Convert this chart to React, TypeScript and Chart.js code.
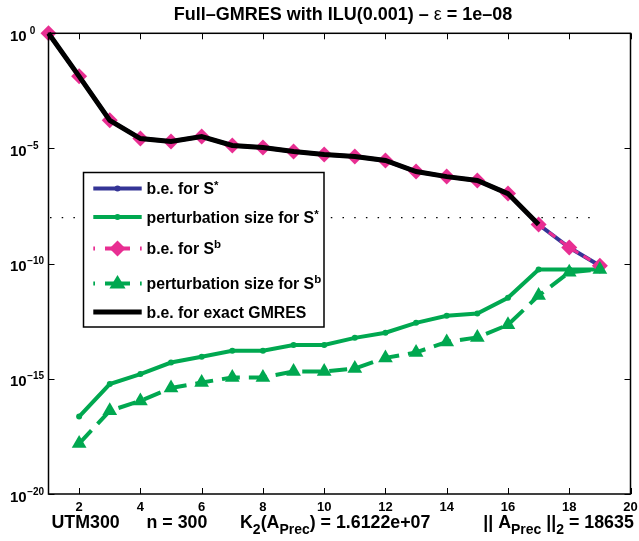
import React, { useEffect, useRef } from 'react';
import { Chart, registerables } from 'chart.js';

Chart.register(...registerables);

// ---------------- data ----------------
const iterations = [1, 2, 3, 4, 5, 6, 7, 8, 9, 10, 11, 12, 13, 14, 15, 16, 17, 18, 19];

// b.e. for S* (blue)
const beSstar = [1.0, 1.35e-2, 1.66e-4, 2.69e-5, 2.0e-5, 3.31e-5, 1.35e-5, 1.1e-5, 7.4e-6, 5.5e-6,
  4.47e-6, 3.0e-6, 1.0e-6, 6.0e-7, 4.1e-7, 1.1e-7, 5.0e-9, 5.0e-10, 8.1e-11];
// perturbation size for S* (green solid)
const pertSstar = [null, 2.3e-17, 5.9e-16, 1.6e-15, 5.1e-15, 9.1e-15, 1.66e-14, 1.66e-14, 2.95e-14, 2.95e-14,
  6.0e-14, 1.0e-13, 2.7e-13, 5.5e-13, 6.8e-13, 3.3e-12, 5.6e-11, 5.6e-11, 5.6e-11];
// b.e. for S^b (pink diamonds)
const beSb = [1.0, 1.35e-2, 1.66e-4, 2.69e-5, 2.0e-5, 3.31e-5, 1.35e-5, 1.1e-5, 7.4e-6, 5.5e-6,
  4.47e-6, 3.0e-6, 1.0e-6, 6.0e-7, 4.1e-7, 1.1e-7, 5.0e-9, 5.0e-10, 8.1e-11];
// perturbation size for S^b (green triangles, dashed)
const pertSb = [null, 1.55e-18, 4.1e-17, 1.1e-16, 4.0e-16, 6.9e-16, 1.15e-15, 1.15e-15, 2.1e-15, 2.1e-15,
  2.8e-15, 8.1e-15, 1.4e-14, 4.0e-14, 6.3e-14, 2.2e-13, 4.1e-12, 4.2e-11, 5.6e-11];
// b.e. for exact GMRES (black)
const beExact = [1.0, 1.35e-2, 1.66e-4, 2.69e-5, 2.0e-5, 3.31e-5, 1.35e-5, 1.1e-5, 7.4e-6, 5.5e-6,
  4.47e-6, 3.0e-6, 1.0e-6, 6.0e-7, 4.1e-7, 1.1e-7, 5.0e-9, null, null];

// tolerance line
const epsilon = 1e-8;
const epsRangeX = [1, 19];

// axes
const xMin = 1;
const xMax = 20;
const yMin = 1e-20;
const yMax = 1;
const xTicks = [2, 4, 6, 8, 10, 12, 14, 16, 18, 20];
const xTickLabels = ['2', '4', '6', '8', '10', '12', '14', '16', '18', '20'];
const yTicks = [1, 1e-5, 1e-10, 1e-15, 1e-20];
const yTickExponents = ['0', '\u22125', '\u221210', '\u221215', '\u221220'];

const titleParts = ['Full\u2013GMRES with ILU(0.001) \u2013 ', '\u03B5', ' = 1e\u201308'];
const matrixName = 'UTM300';
const matrixSize = 'n = 300';
const condNumber = '1.6122e+07';
const normValue = '18635';

const legendLabels = [
  ['b.e. for S', '*'],
  ['perturbation size for S', '*'],
  ['b.e. for S', 'b'],
  ['perturbation size for S', 'b'],
  ['b.e. for exact GMRES', ''],
];

// ---------------- styles ----------------
const BLUE = 'rgb(52,52,150)';
const GREEN = 'rgb(0,168,80)';
const PINK = 'rgb(232,46,146)';
const FONT = '"Liberation Sans", Arial, Helvetica, sans-serif';

function pts(vals: (number | null)[]) {
  return iterations.map((x, i) => ({ x, y: vals[i] }));
}

function drawMarker(ctx: CanvasRenderingContext2D, kind: string, x: number, y: number, r: number, color: string) {
  ctx.save();
  ctx.fillStyle = color;
  ctx.beginPath();
  if (kind === 'circle') {
    ctx.arc(x, y, r, 0, Math.PI * 2);
  } else if (kind === 'diamond') {
    ctx.moveTo(x, y - r);
    ctx.lineTo(x + r, y);
    ctx.lineTo(x, y + r);
    ctx.lineTo(x - r, y);
    ctx.closePath();
  } else if (kind === 'triangle') {
    ctx.moveTo(x, y - r);
    ctx.lineTo(x + r * 0.95, y + r * 0.6);
    ctx.lineTo(x - r * 0.95, y + r * 0.6);
    ctx.closePath();
  }
  ctx.fill();
  ctx.restore();
}

type Part = { t: string; size: number; dy?: number; weight?: string };
function drawRich(ctx: CanvasRenderingContext2D, x: number, y: number, parts: Part[]) {
  let cx = x;
  for (const p of parts) {
    ctx.font = `${p.weight || 'bold'} ${p.size}px ${FONT}`;
    ctx.fillText(p.t, cx, y + (p.dy || 0));
    cx += ctx.measureText(p.t).width;
  }
  return cx;
}
function richWidth(ctx: CanvasRenderingContext2D, parts: Part[]) {
  let w = 0;
  for (const p of parts) {
    ctx.font = `${p.weight || 'bold'} ${p.size}px ${FONT}`;
    w += ctx.measureText(p.t).width;
  }
  return w;
}

const legendPlugin = {
  id: 'customLegend',
  afterDatasetsDraw(chart: any) {
    const ctx: CanvasRenderingContext2D = chart.ctx;
    ctx.save();
    const bx = 83.5, by = 172.5, bw = 240.5, bh = 154.5;
    ctx.fillStyle = '#fff';
    ctx.fillRect(bx, by, bw, bh);
    ctx.strokeStyle = '#000';
    ctx.lineWidth = 1.5;
    ctx.strokeRect(bx, by, bw, bh);

    const rowY = [188.5, 217, 248.5, 283.5, 312];
    const x0 = 93.3, x1 = 141.7, xm = (x0 + x1) / 2, tx = 146.5;
    const styles = [
      { color: BLUE, dash: [], marker: 'circle', r: 3, w: 4 },
      { color: GREEN, dash: [], marker: 'circle', r: 3, w: 4 },
      { color: PINK, dash: [25, 10], marker: 'diamond', r: 8, w: 4 },
      { color: GREEN, dash: [25, 10], marker: 'triangle', r: 8.5, w: 4 },
      { color: '#000', dash: [], marker: '', r: 0, w: 5 },
    ];
    styles.forEach((s, i) => {
      const y = rowY[i];
      ctx.save();
      ctx.strokeStyle = s.color;
      ctx.lineWidth = s.w;
      ctx.setLineDash(s.dash);
      ctx.lineDashOffset = s.dash.length ? 23.3 : 0;
      ctx.beginPath();
      ctx.moveTo(x0, y);
      ctx.lineTo(x1, y);
      ctx.stroke();
      ctx.restore();
      if (s.marker) drawMarker(ctx, s.marker, xm, y, s.r, s.color);
      ctx.fillStyle = '#000';
      ctx.textBaseline = 'alphabetic';
      ctx.textAlign = 'left';
      const [main, sup] = legendLabels[i];
      const parts: Part[] = [{ t: main, size: 15.8 }];
      if (sup) parts.push({ t: sup, size: 11.5, dy: sup === '*' ? -5 : -6.5 });
      drawRich(ctx, tx, y + 5.5, parts);
    });
    ctx.restore();
  },
};

const axesPlugin = {
  id: 'matlabAxes',
  afterDraw(chart: any) {
    const ctx: CanvasRenderingContext2D = chart.ctx;
    const { left, right, top, bottom } = chart.chartArea;
    const xs = chart.scales.x;
    const ys = chart.scales.y;
    ctx.save();
    // frame
    ctx.strokeStyle = '#000';
    ctx.lineWidth = 1.5;
    ctx.strokeRect(left, top, right - left, bottom - top);
    // ticks
    ctx.lineWidth = 1;
    ctx.beginPath();
    xTicks.forEach((v) => {
      const px = Math.round(xs.getPixelForValue(v)) + 0.5;
      ctx.moveTo(px, bottom);
      ctx.lineTo(px, bottom - 6);
      ctx.moveTo(px, top);
      ctx.lineTo(px, top + 6);
    });
    yTicks.forEach((v) => {
      const py = Math.round(ys.getPixelForValue(v)) + 0.5;
      ctx.moveTo(left, py);
      ctx.lineTo(left + 6, py);
      ctx.moveTo(right, py);
      ctx.lineTo(right - 6, py);
    });
    ctx.stroke();

    // x tick labels
    ctx.fillStyle = '#000';
    ctx.textBaseline = 'alphabetic';
    ctx.textAlign = 'center';
    ctx.font = `bold 13px ${FONT}`;
    xTicks.forEach((v, i) => {
      ctx.fillText(xTickLabels[i], xs.getPixelForValue(v), 511);
    });

    // y tick labels
    ctx.textAlign = 'left';
    yTicks.forEach((v, i) => {
      const py = ys.getPixelForValue(v);
      ctx.font = `bold 15px ${FONT}`;
      ctx.fillText('10', 10, py + 7.5);
      const w = ctx.measureText('10').width;
      ctx.font = `bold 10px ${FONT}`;
      const ex = yTickExponents[i];
      ctx.fillText(ex, 10 + w + (ex === '0' ? 3 : 0.5), py + 0.5);
    });

    // title
    const tparts: Part[] = [
      { t: titleParts[0], size: 18 },
      { t: titleParts[1], size: 18, weight: 'normal' },
      { t: titleParts[2], size: 18 },
    ];
    const tw = richWidth(ctx, tparts);
    drawRich(ctx, 343 - tw / 2, 19.5, tparts);

    // bottom annotation
    const by = 528;
    drawRich(ctx, 51.5, by, [{ t: matrixName, size: 17.8 }]);
    drawRich(ctx, 146.5, by, [{ t: matrixSize, size: 17.8 }]);
    drawRich(ctx, 240, by, [
      { t: 'K', size: 17.8 },
      { t: '2', size: 14, dy: 6 },
      { t: '(A', size: 17.8 },
      { t: 'Prec', size: 14, dy: 6 },
      { t: ') = ' + condNumber, size: 17.8 },
    ]);
    drawRich(ctx, 483.3, by, [
      { t: '|| A', size: 17.8 },
      { t: 'Prec', size: 14, dy: 6 },
      { t: ' ||', size: 17.8 },
      { t: '2', size: 14, dy: 6 },
      { t: ' = ' + normValue, size: 17.8 },
    ]);
    ctx.restore();
  },
};

export default function App() {
  const ref = useRef<HTMLCanvasElement | null>(null);
  useEffect(() => {
    if (!ref.current) return;
    const chart = new Chart(ref.current, {
      type: 'line',
      data: {
        datasets: [
          {
            label: 'b.e. for exact GMRES',
            data: pts(beExact),
            borderColor: '#000',
            borderWidth: 5,
            pointRadius: 0,
            order: 0,
            clip: false,
          },
          {
            label: 'perturbation size for S^b',
            data: pts(pertSb),
            borderColor: GREEN,
            backgroundColor: GREEN,
            borderWidth: 4,
            borderDash: [18, 9],
            pointStyle: 'triangle',
            pointRadius: 8.5,
            pointBorderWidth: 0,
            order: 1,
            clip: false,
          },
          {
            label: 'b.e. for S^b',
            data: pts(beSb),
            borderColor: PINK,
            backgroundColor: PINK,
            borderWidth: 3,
            borderDash: [8, 6],
            pointStyle: 'rectRot',
            pointRadius: 8,
            pointBorderWidth: 0,
            order: 2,
            clip: false,
          },
          {
            label: 'perturbation size for S*',
            data: pts(pertSstar),
            borderColor: GREEN,
            backgroundColor: GREEN,
            borderWidth: 4,
            pointStyle: 'circle',
            pointRadius: 3,
            pointBorderWidth: 0,
            order: 3,
            clip: false,
          },
          {
            label: 'b.e. for S*',
            data: pts(beSstar),
            borderColor: BLUE,
            backgroundColor: BLUE,
            borderWidth: 4,
            pointStyle: 'circle',
            pointRadius: 2.5,
            pointBorderWidth: 0,
            order: 4,
            clip: false,
          },
          {
            label: 'epsilon',
            data: epsRangeX.map((x) => ({ x, y: epsilon })),
            borderColor: '#000',
            borderWidth: 1.2,
            borderDash: [1.5, 10.2],
            borderDashOffset: 10.2,
            pointRadius: 0,
            order: 5,
            clip: false,
          },
        ],
      },
      options: {
        responsive: false,
        maintainAspectRatio: false,
        animation: false,
        devicePixelRatio: 1,
        events: [],
        layout: { padding: { left: 48.5, right: 6.5, top: 33.3, bottom: 47 } },
        plugins: {
          legend: { display: false },
          title: { display: false },
          tooltip: { enabled: false },
        },
        elements: { line: { tension: 0 } },
        scales: {
          x: { type: 'linear', min: xMin, max: xMax, display: false },
          y: { type: 'logarithmic', min: yMin, max: yMax, display: false },
        },
      },
      plugins: [legendPlugin, axesPlugin],
    } as any);
    return () => chart.destroy();
  }, []);
  return (
    <div style={{ position: 'absolute', left: 0, top: 0, width: 639, height: 541, background: '#fff' }}>
      <canvas ref={ref} width={639} height={541} style={{ width: 639, height: 541, display: 'block' }} />
    </div>
  );
}
